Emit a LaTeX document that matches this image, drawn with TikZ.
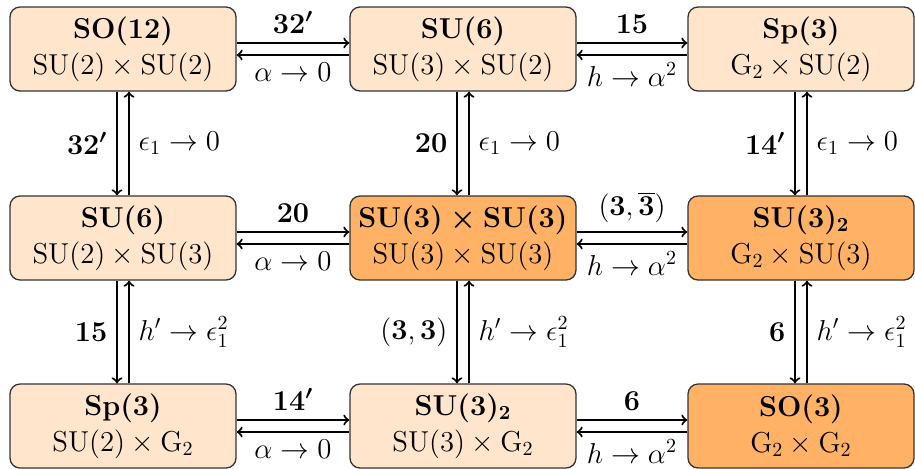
\documentclass[tikz,border=0pt]{standalone}
\usetikzlibrary{arrows.meta}
\begin{document}
\begin{tikzpicture}[x=0.5pt,y=-0.5pt,
  every node/.style={font=\Large},
  box/.style={draw=black!80, line width=0.65pt, rounded corners=5pt, minimum width=113pt, minimum height=42pt, align=center, inner sep=0pt},
  lite/.style={box, fill=orange!20},
  dark/.style={box, fill=orange!60},
  arr/.style={-to, line width=1pt}]
\useasboundingbox (0,0) rectangle (915,468);
\node[lite] (a1) at (123,49) {{\boldmath$\mathrm{SO}(12)$}\\$\mathrm{SU}(2)\times\mathrm{SU}(2)$};
\node[lite] (a2) at (463,49) {{\boldmath$\mathrm{SU}(6)$}\\$\mathrm{SU}(3)\times\mathrm{SU}(2)$};
\node[lite] (a3) at (801,49) {{\boldmath$\mathrm{Sp}(3)$}\\$\mathrm{G}_2\times\mathrm{SU}(2)$};
\node[lite] (b1) at (123,238) {{\boldmath$\mathrm{SU}(6)$}\\$\mathrm{SU}(2)\times\mathrm{SU}(3)$};
\node[dark] (b2) at (463,238) {{\boldmath$\mathrm{SU}(3)\times\mathrm{SU}(3)$}\\$\mathrm{SU}(3)\times\mathrm{SU}(3)$};
\node[dark] (b3) at (801,238) {{\boldmath$\mathrm{SU}(3)_2$}\\$\mathrm{G}_2\times\mathrm{SU}(3)$};
\node[lite] (c1) at (123,426) {{\boldmath$\mathrm{Sp}(3)$}\\$\mathrm{SU}(2)\times\mathrm{G}_2$};
\node[lite] (c2) at (463,426) {{\boldmath$\mathrm{SU}(3)_2$}\\$\mathrm{SU}(3)\times\mathrm{G}_2$};
\node[dark] (c3) at (801,426) {{\boldmath$\mathrm{SO}(3)$}\\$\mathrm{G}_2\times\mathrm{G}_2$};
% horizontal
\draw[arr] ([yshift=3pt]a1.east) -- ([yshift=3pt]a2.west) node[midway,above=1pt] (l1) {{\boldmath$32^{\prime}$}};
\draw[arr] ([yshift=-3pt]a2.west) -- ([yshift=-3pt]a1.east) node[midway,below] (l2) {$\alpha\to0$};
\draw[arr] ([yshift=3pt]a2.east) -- ([yshift=3pt]a3.west) node[midway,above=1pt] (l3) {{\boldmath$15$}};
\draw[arr] ([yshift=-3pt]a3.west) -- ([yshift=-3pt]a2.east) node[midway,below] (l4) {$h\to\alpha^2$};
\draw[arr] ([yshift=3pt]b1.east) -- ([yshift=3pt]b2.west) node[midway,above=1pt] (l5) {{\boldmath$20$}};
\draw[arr] ([yshift=-3pt]b2.west) -- ([yshift=-3pt]b1.east) node[midway,below] (l6) {$\alpha\to0$};
\draw[arr] ([yshift=3pt]b2.east) -- ([yshift=3pt]b3.west) node[midway,above=1pt] (l7) {$(\mathbf{3},\overline{\mathbf{3}})$};
\draw[arr] ([yshift=-3pt]b3.west) -- ([yshift=-3pt]b2.east) node[midway,below] (l8) {$h\to\alpha^2$};
\draw[arr] ([yshift=3pt]c1.east) -- ([yshift=3pt]c2.west) node[midway,above=1pt] (l9) {{\boldmath$14^{\prime}$}};
\draw[arr] ([yshift=-3pt]c2.west) -- ([yshift=-3pt]c1.east) node[midway,below] (l10) {$\alpha\to0$};
\draw[arr] ([yshift=3pt]c2.east) -- ([yshift=3pt]c3.west) node[midway,above=1pt] (l11) {{\boldmath$6$}};
\draw[arr] ([yshift=-3pt]c3.west) -- ([yshift=-3pt]c2.east) node[midway,below] (l12) {$h\to\alpha^2$};
% vertical
\draw[arr] ([xshift=-3pt]a1.south) -- ([xshift=-3pt]b1.north) node[midway,left=1pt] (v1) {{\boldmath$32^{\prime}$}};
\draw[arr] ([xshift=3pt]b1.north) -- ([xshift=3pt]a1.south) node[midway,right=1pt] (v2) {$\epsilon_1\to0$};
\draw[arr] ([xshift=-3pt]a2.south) -- ([xshift=-3pt]b2.north) node[midway,left=1pt] (v3) {{\boldmath$20$}};
\draw[arr] ([xshift=3pt]b2.north) -- ([xshift=3pt]a2.south) node[midway,right=1pt] (v4) {$\epsilon_1\to0$};
\draw[arr] ([xshift=-3pt]a3.south) -- ([xshift=-3pt]b3.north) node[midway,left=1pt] (v5) {{\boldmath$14^{\prime}$}};
\draw[arr] ([xshift=3pt]b3.north) -- ([xshift=3pt]a3.south) node[midway,right=1pt] (v6) {$\epsilon_1\to0$};
\draw[arr] ([xshift=-3pt]b1.south) -- ([xshift=-3pt]c1.north) node[midway,left=1pt] (v7) {{\boldmath$15$}};
\draw[arr] ([xshift=3pt]c1.north) -- ([xshift=3pt]b1.south) node[midway,right=1pt] (v8) {$h^{\prime}\to\epsilon_1^2$};
\draw[arr] ([xshift=-3pt]b2.south) -- ([xshift=-3pt]c2.north) node[midway,left=1pt] (v9) {$(\mathbf{3},\mathbf{3})$};
\draw[arr] ([xshift=3pt]c2.north) -- ([xshift=3pt]b2.south) node[midway,right=1pt] (v10) {$h^{\prime}\to\epsilon_1^2$};
\draw[arr] ([xshift=-3pt]b3.south) -- ([xshift=-3pt]c3.north) node[midway,left=1pt] (v11) {{\boldmath$6$}};
\draw[arr] ([xshift=3pt]c3.north) -- ([xshift=3pt]b3.south) node[midway,right=1pt] (v12) {$h^{\prime}\to\epsilon_1^2$};
\end{tikzpicture}
\end{document}
